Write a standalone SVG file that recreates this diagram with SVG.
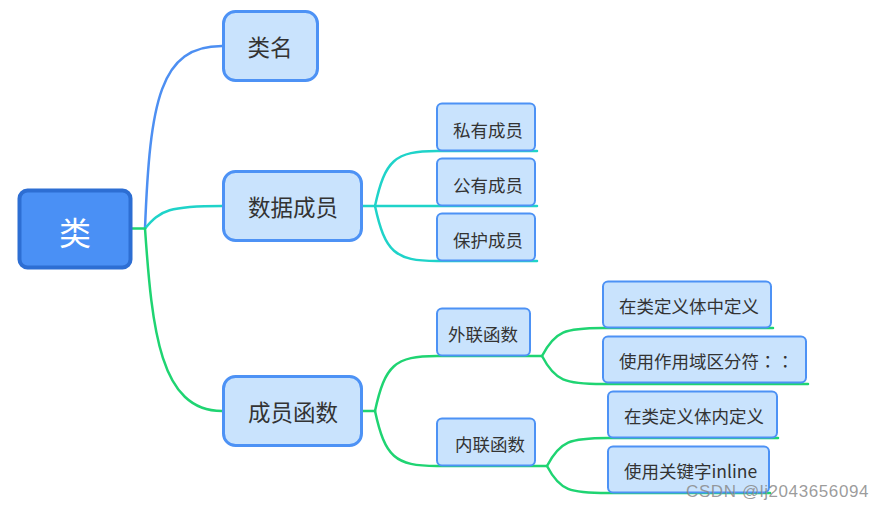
<svg xmlns="http://www.w3.org/2000/svg" width="884" height="510" viewBox="0 0 884 510">
<style>
.l1 { fill: #c9e3fd; stroke: #4d92f5; stroke-width: 3; }
.l2 { fill: #c9e3fd; stroke: #4d92f5; stroke-width: 2; }
.t { font-family: "Noto Sans CJK SC", "Liberation Sans", sans-serif; fill: #333333; dominant-baseline: central; }
.t1 { font-size: 22.5px; text-anchor: middle; }
.t2 { font-size: 17.5px; }
.c { fill: none; stroke-width: 2.5; stroke-linecap: round; }
.blue { stroke: #4d8ff2; }
.cyan { stroke: #1fd3c9; }
.green { stroke: #1fd472; }
</style>
<rect width="884" height="510" fill="#ffffff"/>
<g id="connectors">
  <path class="c green" d="M132,228.5 L145,228.5"/>
  <path class="c blue" d="M145,228.5 C150,100 160,46 222,46"/>
  <path class="c cyan" d="M145,228.5 C160,210 170,206 222,206"/>
  <path class="c green" d="M145,228.5 C152,330 160,411 222,411"/>
  <path class="c cyan" d="M362,206 L375,206"/>
  <path class="c cyan" d="M375,206 C385,160 395,151 437,151 L537,151"/>
  <path class="c cyan" d="M375,206 L537,206"/>
  <path class="c cyan" d="M375,206 C385,252 395,261 437,261 L537,261"/>
  <path class="c green" d="M362,411 L375,411"/>
  <path class="c green" d="M375,411 C385,365 395,356 437,356 L542,356"/>
  <path class="c green" d="M375,411 C385,457 395,466 437,466 L547,466"/>
  <path class="c green" d="M542,356 C555,331 565,328 603,328 L773,328"/>
  <path class="c green" d="M542,356 C555,381 565,384 603,384 L808,384"/>
  <path class="c green" d="M547,466 C560,441 570,438 608,438 L778,438"/>
  <path class="c green" d="M547,466 C560,491 570,493 608,493 L770,493"/>
</g>
<g id="root">
  <rect x="19.5" y="190.5" width="111" height="77" rx="8" fill="#4a90f5" stroke="#2d6ed3" stroke-width="4"/>
  <text class="t" x="75" y="231" font-size="32" text-anchor="middle" style="fill:#ffffff">类</text>
</g>
<g id="n-leiming">
  <rect class="l1" x="223.5" y="11.5" width="94" height="69" rx="12"/>
  <text class="t t1" x="270" y="46">类名</text>
</g>
<g id="n-shujuchengyuan">
  <rect class="l1" x="223.5" y="171.5" width="138" height="69" rx="12"/>
  <text class="t t1" x="293" y="206">数据成员</text>
</g>
<g id="n-chengyuanhanshu">
  <rect class="l1" x="223.5" y="376.5" width="138" height="69" rx="12"/>
  <text class="t t1" x="293" y="411">成员函数</text>
</g>
<g id="n-siyou">
  <rect class="l2" x="437" y="103.5" width="98" height="47" rx="5"/>
  <text class="t t2" x="453" y="129">私有成员</text>
</g>
<g id="n-gongyou">
  <rect class="l2" x="437" y="158.5" width="98" height="47" rx="5"/>
  <text class="t t2" x="453" y="184">公有成员</text>
</g>
<g id="n-baohu">
  <rect class="l2" x="437" y="213.5" width="98" height="47" rx="5"/>
  <text class="t t2" x="453" y="239">保护成员</text>
</g>
<g id="n-wailian">
  <rect class="l2" x="437" y="308.5" width="93" height="47" rx="5"/>
  <text class="t t2" x="448" y="333">外联函数</text>
</g>
<g id="n-neilian">
  <rect class="l2" x="437" y="418.5" width="98" height="47" rx="5"/>
  <text class="t t2" x="455" y="443">内联函数</text>
</g>
<g id="n-zhongdingyi">
  <rect class="l2" x="603" y="281.5" width="168" height="46" rx="5"/>
  <text class="t t2" x="619" y="305">在类定义体中定义</text>
</g>
<g id="n-zuoyongyu">
  <rect class="l2" x="603" y="336.5" width="203" height="46" rx="5"/>
  <text class="t t2" x="619" y="360">使用作用域区分符<tspan font-family="Noto Sans CJK TC, sans-serif">：：</tspan></text>
</g>
<g id="n-neidingyi">
  <rect class="l2" x="608" y="391.5" width="169" height="46" rx="5"/>
  <text class="t t2" x="624" y="415">在类定义体内定义</text>
</g>
<g id="n-inline">
  <rect class="l2" x="608" y="446.5" width="161" height="46" rx="5"/>
  <text class="t t2" x="624" y="470">使用关键字inline</text>
</g>
<text x="686" y="497" font-family="Liberation Sans, sans-serif" font-size="17" letter-spacing="0.6" fill="#8a8a8a" fill-opacity="0.85">CSDN @lj2043656094</text>
</svg>
